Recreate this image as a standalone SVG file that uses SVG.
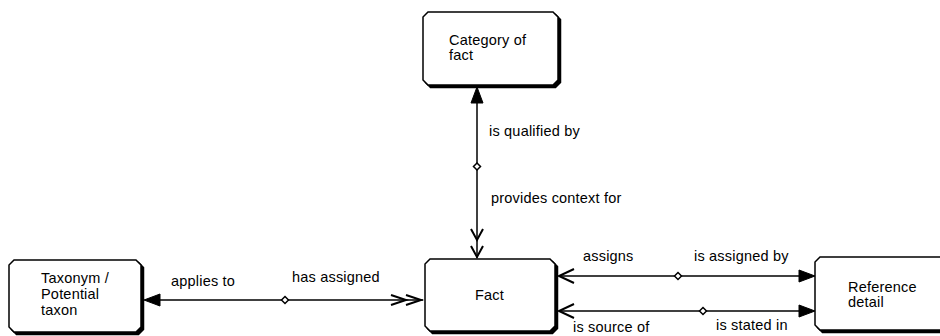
<svg xmlns="http://www.w3.org/2000/svg" width="940" height="336" viewBox="0 0 940 336">
<defs>
<style>
.box{fill:#fff;stroke:#000;stroke-width:1.5}
.sh{fill:#000;stroke:#000;stroke-width:1.5}
.t{font-family:"Liberation Sans",Arial,sans-serif;font-size:14.5px;letter-spacing:0.2px;fill:#000}
.ln{stroke:#000;stroke-width:1.5;fill:none}
.solid{fill:#000;stroke:#000;stroke-width:1}
.open{fill:none;stroke:#000;stroke-width:2}
.dia{fill:#fff;stroke:#000;stroke-width:1.5}
</style>
</defs>
<rect width="940" height="336" fill="#fff"/>
<g id="connectors">
<line class="ln" x1="477" y1="100" x2="477" y2="258"/>
<polygon class="solid" points="477,87 471,103 483,103"/>
<polyline class="open" points="471,229 477,240 483,229"/>
<polyline class="open" points="471,246 477,257 483,246"/>
<polygon class="dia" points="477,163 480.5,166.5 477,170 473.5,166.5"/>
<line class="ln" x1="156" y1="300" x2="423" y2="300"/>
<polygon class="solid" points="144,300 160,294 160,306"/>
<polyline class="open" points="391,295 406,300 391,305"/>
<polyline class="open" points="406,295 421,300 406,305"/>
<polygon class="dia" points="285,296.5 288.5,300 285,303.5 281.5,300"/>
<line class="ln" x1="559" y1="276" x2="803" y2="276"/>
<polyline class="open" points="574,269 559,276 574,283"/>
<polygon class="solid" points="815,276 799,270 799,282"/>
<polygon class="dia" points="678,272.5 681.5,276 678,279.5 674.5,276"/>
<line class="ln" x1="559" y1="311" x2="803" y2="311"/>
<polyline class="open" points="574,304 559,311 574,318"/>
<polygon class="solid" points="815,311 799,305 799,317"/>
<polygon class="dia" points="703,307.5 706.5,311 703,314.5 699.5,311"/>
<text class="t" x="489" y="136">is qualified by</text>
<text class="t" x="491" y="203">provides context for</text>
<text class="t" x="171" y="286">applies to</text>
<text class="t" x="292" y="282">has assigned</text>
<text class="t" x="583" y="261">assigns</text>
<text class="t" x="694" y="261">is assigned by</text>
<text class="t" x="573" y="332">is source of</text>
<text class="t" x="716" y="330">is stated in</text>
</g>
<g id="category">
<path class="sh" d="M430.5,14.5 H555.5 L560.5,19.5 V82.5 L555.5,87.5 H430.5 L425.5,82.5 V19.5 Z"/>
<path class="box" d="M428,12 H553 L558,17 V80 L553,85 H428 L423,80 V17 Z"/>
<text class="t" x="449" y="45">Category of</text>
<text class="t" x="449" y="60">fact</text>
</g>
<g id="fact">
<path class="sh" d="M432.5,261.5 H552.5 L557.5,266.5 V328.5 L552.5,333.5 H432.5 L427.5,328.5 V266.5 Z"/>
<path class="box" d="M430,259 H550 L555,264 V326 L550,331 H430 L425,326 V264 Z"/>
<text class="t" x="475" y="300">Fact</text>
</g>
<g id="taxonym">
<path class="sh" d="M16.5,262.5 H138.5 L143.5,267.5 V329.5 L138.5,334.5 H16.5 L11.5,329.5 V267.5 Z"/>
<path class="box" d="M14,260 H136 L141,265 V327 L136,332 H14 L9,327 V265 Z"/>
<text class="t" x="41" y="283">Taxonym /</text>
<text class="t" x="41" y="299">Potential</text>
<text class="t" x="41" y="315">taxon</text>
</g>
<g id="reference">
<path class="sh" d="M822.5,259.5 H947.5 V332.5 H822.5 L817.5,327.5 V264.5 Z"/>
<path class="box" d="M820,257 H945 V330 H820 L815,325 V262 Z"/>
<text class="t" x="848" y="292">Reference</text>
<text class="t" x="848" y="307">detail</text>
</g>
</svg>
